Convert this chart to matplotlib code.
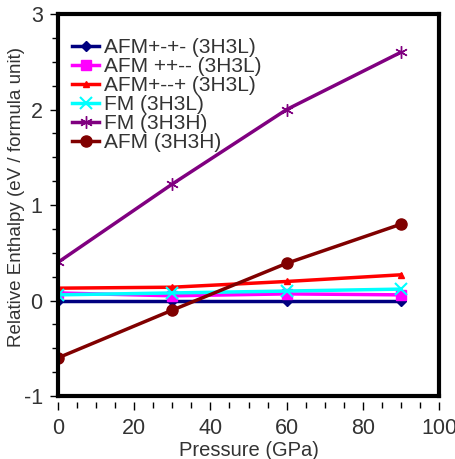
import matplotlib
matplotlib.use("Agg")
import matplotlib.pyplot as plt
from matplotlib.ticker import MultipleLocator

plt.rcParams['font.family'] = ['Liberation Sans', 'DejaVu Sans']
plt.rcParams['axes.unicode_minus'] = False

pressure = [0, 30, 60, 90]
afm_pmpm = [0.0, 0.0, 0.0, 0.0]
afm_ppmm = [0.08, 0.05, 0.07, 0.06]
afm_pmmp = [0.13, 0.14, 0.20, 0.27]
fm_3h3l = [0.06, 0.08, 0.10, 0.12]
fm_3h3h = [0.40, 1.22, 2.00, 2.60]
afm_3h3h = [-0.60, -0.10, 0.39, 0.80]

labels = ['AFM+-+- (3H3L)', 'AFM ++-- (3H3L)', 'AFM+--+ (3H3L)',
          'FM (3H3L)', 'FM (3H3H)', 'AFM (3H3H)']

fig = plt.figure(figsize=(4.56, 4.59), dpi=100)
ax = fig.add_axes([0.127, 0.137, 0.836, 0.8325])

ax.plot(pressure, afm_pmpm, color='#000080', marker='D', ms=5.5, lw=2.5, label=labels[0])
ax.plot(pressure, afm_ppmm, color='#ff00ff', marker='s', ms=7, lw=2.5, label=labels[1])
ax.plot(pressure, afm_pmmp, color='#ff0000', marker='^', ms=5, lw=2.5, label=labels[2])
ax.plot(pressure, fm_3h3l, color='#00ffff', marker='x', ms=8, mew=1.5, lw=2.5, label=labels[3])
ax.plot(pressure, fm_3h3h, color='#800080', marker=(6, 2, 0), ms=9, mew=1, lw=2.5, label=labels[4])
ax.plot(pressure, afm_3h3h, color='#800000', marker='o', ms=8, lw=2.5, label=labels[5])

ax.set_xlim(0, 100)
ax.set_ylim(-1, 3)
ax.xaxis.set_major_locator(MultipleLocator(20))
ax.xaxis.set_minor_locator(MultipleLocator(5))
ax.yaxis.set_major_locator(MultipleLocator(1))
ax.yaxis.set_minor_locator(MultipleLocator(0.25))

for s in ['top', 'right', 'left']:
    ax.spines[s].set_linewidth(3)
ax.spines['bottom'].set_position(('outward', 4))
ax.spines['bottom'].set_linewidth(0)
ax.axhline(-1, color='black', lw=3, clip_on=False, zorder=5)

ax.tick_params(axis='both', which='major', direction='out', length=6, width=1,
               labelsize=15.5, labelcolor='#333333')
ax.tick_params(axis='both', which='minor', direction='out', length=4, width=1)
ax.tick_params(axis='x', which='both', top=False)
ax.tick_params(axis='y', which='both', right=False)
ax.tick_params(axis='x', which='major', pad=6)
ax.tick_params(axis='y', which='major', pad=5)

ax.set_xlabel('Pressure (GPa)', fontsize=14.5, color='#333333', labelpad=1)
ax.set_ylabel('Relative Enthalpy (eV / formula unit)', fontsize=13.5, color='#333333')
ax.yaxis.set_label_coords(-0.087, 0.52)

leg = ax.legend(loc='upper left', frameon=False, fontsize=15, handlelength=1.25,
                handletextpad=0.25, labelspacing=0.0, borderaxespad=0.3,
                bbox_to_anchor=(0.0, 0.975))
for t in leg.get_texts():
    t.set_color('#333333')

fig.savefig('out.png', dpi=100)
